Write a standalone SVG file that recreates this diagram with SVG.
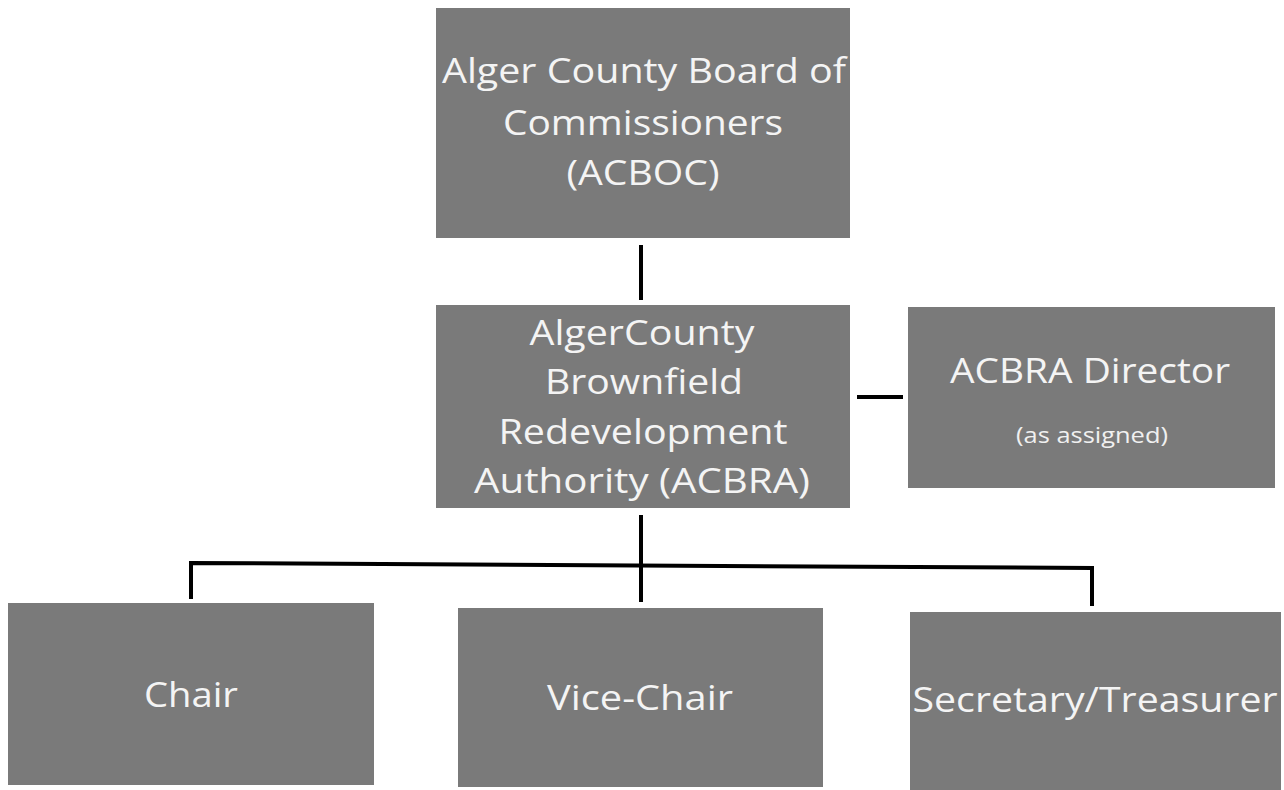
<svg xmlns="http://www.w3.org/2000/svg" width="1284" height="790" viewBox="0 0 1284 790">
<style>
.box{fill:#7a7a7a}
.t{fill:#f4f4f4;font-family:"Open Sans","Liberation Sans",sans-serif;font-size:35px;text-anchor:middle}
.s{fill:#f0f0f0;font-family:"Open Sans","Liberation Sans",sans-serif;font-size:21px;text-anchor:middle}
.c{stroke:#000;stroke-width:4;fill:none}
</style>
<rect width="1284" height="790" fill="#fff"/>
<g id="connectors">
<line class="c" x1="641" y1="245" x2="641" y2="300"/>
<line class="c" x1="857" y1="397" x2="903" y2="397"/>
<line class="c" x1="641" y1="515" x2="641" y2="602"/>
<polyline class="c" points="191,599 191,563 1092,568 1092,606"/>
</g>
<g id="acboc">
<rect class="box" x="436" y="8" width="414" height="230"/>
<text class="t" x="644" y="83" textLength="404" lengthAdjust="spacingAndGlyphs">Alger County Board of</text>
<text class="t" x="643" y="135" textLength="280" lengthAdjust="spacingAndGlyphs">Commissioners</text>
<text class="t" x="643" y="185" textLength="153" lengthAdjust="spacingAndGlyphs">(ACBOC)</text>
</g>
<g id="acbra">
<rect class="box" x="436" y="305" width="414" height="203"/>
<text class="t" x="642" y="345" textLength="225" lengthAdjust="spacingAndGlyphs">AlgerCounty</text>
<text class="t" x="644" y="394" textLength="198" lengthAdjust="spacingAndGlyphs">Brownfield</text>
<text class="t" x="643" y="444" textLength="289" lengthAdjust="spacingAndGlyphs">Redevelopment</text>
<text class="t" x="642" y="493" textLength="336" lengthAdjust="spacingAndGlyphs">Authority (ACBRA)</text>
</g>
<g id="director">
<rect class="box" x="908" y="307" width="367" height="181"/>
<text class="t" x="1090" y="383" textLength="280" lengthAdjust="spacingAndGlyphs">ACBRA Director</text>
<text class="s" x="1092" y="443" textLength="152" lengthAdjust="spacingAndGlyphs">(as assigned)</text>
</g>
<g id="chair">
<rect class="box" x="8" y="603" width="366" height="182"/>
<text class="t" x="191" y="707" textLength="94" lengthAdjust="spacingAndGlyphs">Chair</text>
</g>
<g id="vicechair">
<rect class="box" x="458" y="608" width="365" height="179"/>
<text class="t" x="640" y="710" textLength="186" lengthAdjust="spacingAndGlyphs">Vice-Chair</text>
</g>
<g id="sectreas">
<rect class="box" x="910" y="612" width="371" height="178"/>
<text class="t" x="1095" y="712" textLength="365" lengthAdjust="spacingAndGlyphs">Secretary/Treasurer</text>
</g>
</svg>
